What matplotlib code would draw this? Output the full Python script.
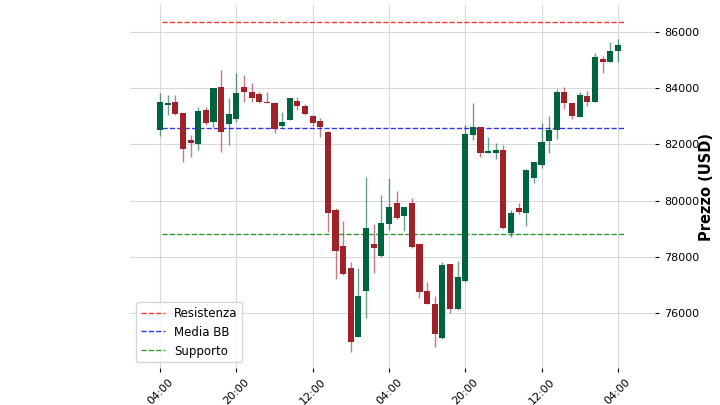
import matplotlib
matplotlib.use("Agg")
import matplotlib.pyplot as plt
import numpy as np

opens = [82512,83401,83519,83106,82155,82013,83223,82807,84053,82725,82892,84053,83875,83782,83519,83480,82654,82867,83544,83366,
         83010,82832,82451,79663,78392,77609,75153,76780,78453,78026,79154,79902,79461,79923,78453,76790,76306,75096,77730,76139,
         77136,82333,82607,81703,81682,81800,78856,79724,79568,80792,81266,82120,82512,83853,83462,82985,83722,83519,85028,84943,85334]
highs = [83840,83757,83757,83120,82333,83319,83342,84010,84647,83640,84530,84469,84174,83870,83875,83519,83163,83660,83697,83426,
         83045,82928,82470,79724,79272,77822,77587,80827,79154,80197,80813,80340,79770,80101,78470,77090,76612,77822,77760,77858,
         82689,83462,82630,82251,82038,81977,79663,79923,81110,81380,82750,83010,83971,84053,83480,83875,83911,85242,85146,85655,85740]
lows = [82299,83045,83050,81372,81561,81800,82689,82607,81739,81977,82807,83519,83497,83480,83462,82417,82607,82850,83223,83045,
        82654,82251,78891,77196,77370,74619,75140,75829,77432,78000,78951,79340,78927,78300,76541,76317,74797,75080,75986,76120,
        77120,82155,81561,81682,81468,78990,78691,79510,79094,80614,81148,81682,82191,83248,82892,82960,83366,83500,84530,84921,84943]
closes = [83519,83462,83070,81846,82060,83199,82772,83996,82451,83070,83840,83875,83640,83497,83480,82547,82807,83640,83366,83081,
          82750,82630,79546,78214,77385,74957,76601,79013,78300,79189,79759,79368,79759,78357,76755,76317,75249,77705,76139,77267,
          82369,82630,81682,81775,81800,79012,79568,79604,81087,81361,82095,82512,83853,83462,83020,83757,83519,85099,84921,85334,85537]
tick_labels = ["04:00", "20:00", "12:00", "04:00", "20:00", "12:00", "04:00"]
resistenza = 86356
media_bb = 82582
supporto = 78809

up, down = "#006340", "#A02128"
fig = plt.figure(figsize=(7.2, 4.05), dpi=100)
ax = fig.add_axes([0.181, 0.091, 0.729, 0.897])
x = np.arange(len(opens))
for i in x:
    o, h, l, c = opens[i], highs[i], lows[i], closes[i]
    col = up if c >= o else down
    ax.vlines(i, l, h, color=col, linewidth=1, alpha=0.6, zorder=2)
    ax.bar(i, abs(c - o) if abs(c - o) > 15 else 15, bottom=min(o, c), width=0.8, color=col, zorder=3)

ax.axhline(resistenza, color="red", ls="--", lw=1, alpha=0.8, xmin=0.06, xmax=0.94, label="Resistenza")
ax.axhline(media_bb, color="blue", ls="--", lw=1, alpha=0.8, xmin=0.06, xmax=0.94, label="Media BB")
ax.axhline(supporto, color="green", ls="--", lw=1, alpha=0.8, xmin=0.06, xmax=0.94, label="Supporto")
ax.set_xlim(-3.9, 64.9)
ax.set_ylim(74040, 86960)
ax.set_xticks(np.arange(0, 61, 10))
ax.set_xticklabels(tick_labels, rotation=45, fontsize=8)
ax.set_yticks([76000, 78000, 80000, 82000, 84000, 86000])
ax.tick_params(axis="y", labelsize=8)
ax.yaxis.tick_right()
ax.set_ylabel("Prezzo (USD)", fontsize=10.5, fontweight="bold")
ax.yaxis.set_label_coords(1.112, 0.5)
ax.grid(True, color="#d9d9d9", lw=0.8)
ax.set_axisbelow(True)
for s in ax.spines.values():
    s.set_visible(False)
ax.tick_params(length=3)
ax.legend(loc="lower left", fontsize=8.5)
fig.savefig("out.png")
